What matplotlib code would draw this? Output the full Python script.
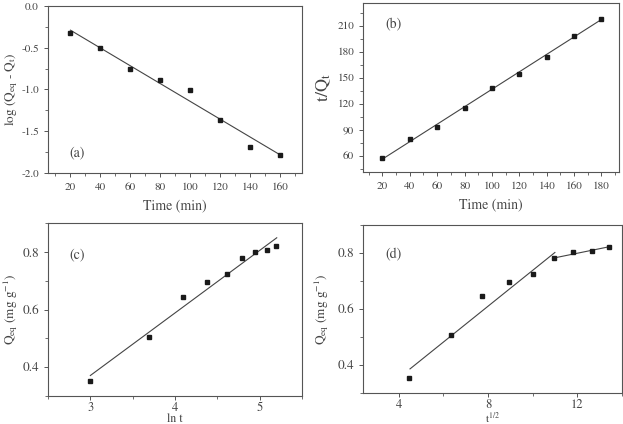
import matplotlib
matplotlib.use("Agg")
import matplotlib.pyplot as plt
from matplotlib.ticker import AutoMinorLocator, MultipleLocator

plt.rcParams['font.family'] = ['STIXGeneral', 'Liberation Serif', 'DejaVu Serif']
plt.rcParams['mathtext.fontset'] = 'stix'

TXT = '#444444'
AX = '#555555'

# (a) pseudo-first order
time_a = [20, 40, 60, 80, 100, 120, 140, 160]
logq_a = [-0.32, -0.50, -0.75, -0.89, -1.01, -1.37, -1.69, -1.78]
fit_a_x = [20, 160]
fit_a_y = [-0.29, -1.78]

# (b) pseudo-second order
time_b = [20, 40, 60, 80, 100, 120, 140, 160, 180]
tq_b = [57, 79, 93, 115, 138, 154, 174, 198, 218]
fit_b_x = [20, 180]
fit_b_y = [56, 217]

# (c) Elovich
lnt_c = [3.0, 3.69, 4.09, 4.38, 4.61, 4.79, 4.94, 5.08, 5.19]
qeq = [0.352, 0.505, 0.645, 0.697, 0.725, 0.781, 0.802, 0.806, 0.822]
fit_c_x = [3.0, 5.2]
fit_c_y = [0.37, 0.85]

# (d) intraparticle diffusion
sqrt_t = [4.47, 6.32, 7.75, 8.94, 10.0, 10.95, 11.83, 12.65, 13.42]
fit_d1_x = [4.5, 11.0]
fit_d1_y = [0.385, 0.802]
fit_d2_x = [11.0, 13.4]
fit_d2_y = [0.783, 0.822]

fig = plt.figure(figsize=(6.23, 4.24), dpi=100)


def style(ax, xminor=2, yminor=2):
    for s in ax.spines.values():
        s.set_color(AX)
        s.set_linewidth(0.8)
    ax.tick_params(which='both', direction='out', colors=AX, labelcolor=TXT,
                   labelsize=8, top=False, right=False)
    ax.tick_params(which='major', length=3, width=0.7)
    ax.tick_params(which='minor', length=2, width=0.6)
    ax.xaxis.set_minor_locator(AutoMinorLocator(xminor))
    ax.yaxis.set_minor_locator(AutoMinorLocator(yminor))


def points(ax, x, y):
    ax.plot(x, y, 's', color='#1a1a1a', markersize=3.5, zorder=3)


def fitline(ax, x, y):
    ax.plot(x, y, '-', color='#444444', linewidth=0.8, zorder=2)


# panel a
ax = fig.add_axes([0.077, 0.592, 0.408, 0.394])
fitline(ax, fit_a_x, fit_a_y)
points(ax, time_a, logq_a)
ax.set_xlim(5, 175)
ax.set_ylim(-2.0, 0.0)
ax.xaxis.set_major_locator(MultipleLocator(20))
ax.yaxis.set_major_locator(MultipleLocator(0.5))
ax.yaxis.set_major_formatter(plt.FuncFormatter(lambda v, p: f"{v:.1f}"))
style(ax)
ax.set_xlabel('Time (min)', fontsize=10, color=TXT, labelpad=5)
ax.set_ylabel(r'log (Q$_{\mathrm{eq}}$ - Q$_{\mathrm{t}}$)', fontsize=9.5, color=TXT)
ax.yaxis.set_label_coords(-0.11, 0.5)
ax.text(0.085, 0.10, '(a)', transform=ax.transAxes, fontsize=10, color=TXT)

# panel b
ax = fig.add_axes([0.583, 0.594, 0.411, 0.399])
fitline(ax, fit_b_x, fit_b_y)
points(ax, time_b, tq_b)
ax.set_xlim(6, 193)
ax.set_ylim(41, 236)
ax.xaxis.set_major_locator(MultipleLocator(20))
ax.yaxis.set_major_locator(MultipleLocator(30))
style(ax)
ax.set_xlabel('Time (min)', fontsize=10, color=TXT, labelpad=5)
ax.set_ylabel(r'$\mathrm{t/Q_t}$', fontsize=13, color=TXT, labelpad=3)
ax.text(0.085, 0.85, '(b)', transform=ax.transAxes, fontsize=10, color=TXT)

# panel c
ax = fig.add_axes([0.077, 0.067, 0.408, 0.406])
fitline(ax, fit_c_x, fit_c_y)
points(ax, lnt_c, qeq)
ax.set_xlim(2.5, 5.5)
ax.set_ylim(0.3, 0.9)
ax.xaxis.set_major_locator(MultipleLocator(1))
ax.yaxis.set_major_locator(MultipleLocator(0.2))
style(ax)
ax.tick_params(which='major', labelsize=9.5)
ax.tick_params(axis='x', which='major', labelsize=9, pad=1.5)
ax.set_xlabel('ln t', fontsize=8.5, color=TXT)
ax.xaxis.set_label_coords(0.5, -0.105)
ax.set_ylabel(r'Q$_{\mathrm{eq}}$ (mg g$^{-1}$)', fontsize=9.5, color=TXT)
ax.yaxis.set_label_coords(-0.11, 0.5)
ax.text(0.085, 0.80, '(c)', transform=ax.transAxes, fontsize=10, color=TXT)

# panel d
ax = fig.add_axes([0.583, 0.074, 0.415, 0.395])
fitline(ax, fit_d1_x, fit_d1_y)
fitline(ax, fit_d2_x, fit_d2_y)
points(ax, sqrt_t, qeq)
ax.set_xlim(2.4, 14.0)
ax.set_ylim(0.3, 0.9)
ax.xaxis.set_major_locator(MultipleLocator(4))
ax.yaxis.set_major_locator(MultipleLocator(0.2))
style(ax)
ax.tick_params(which='major', labelsize=9.5)
ax.tick_params(axis='x', which='major', labelsize=9, pad=1.5)
ax.set_xlabel(r't$^{1/2}$', fontsize=8, color=TXT)
ax.xaxis.set_label_coords(0.5, -0.108)
ax.set_ylabel(r'Q$_{\mathrm{eq}}$ (mg g$^{-1}$)', fontsize=9.5, color=TXT, labelpad=5)
ax.text(0.085, 0.80, '(d)', transform=ax.transAxes, fontsize=10, color=TXT)

fig.savefig('out.png', dpi=100)
